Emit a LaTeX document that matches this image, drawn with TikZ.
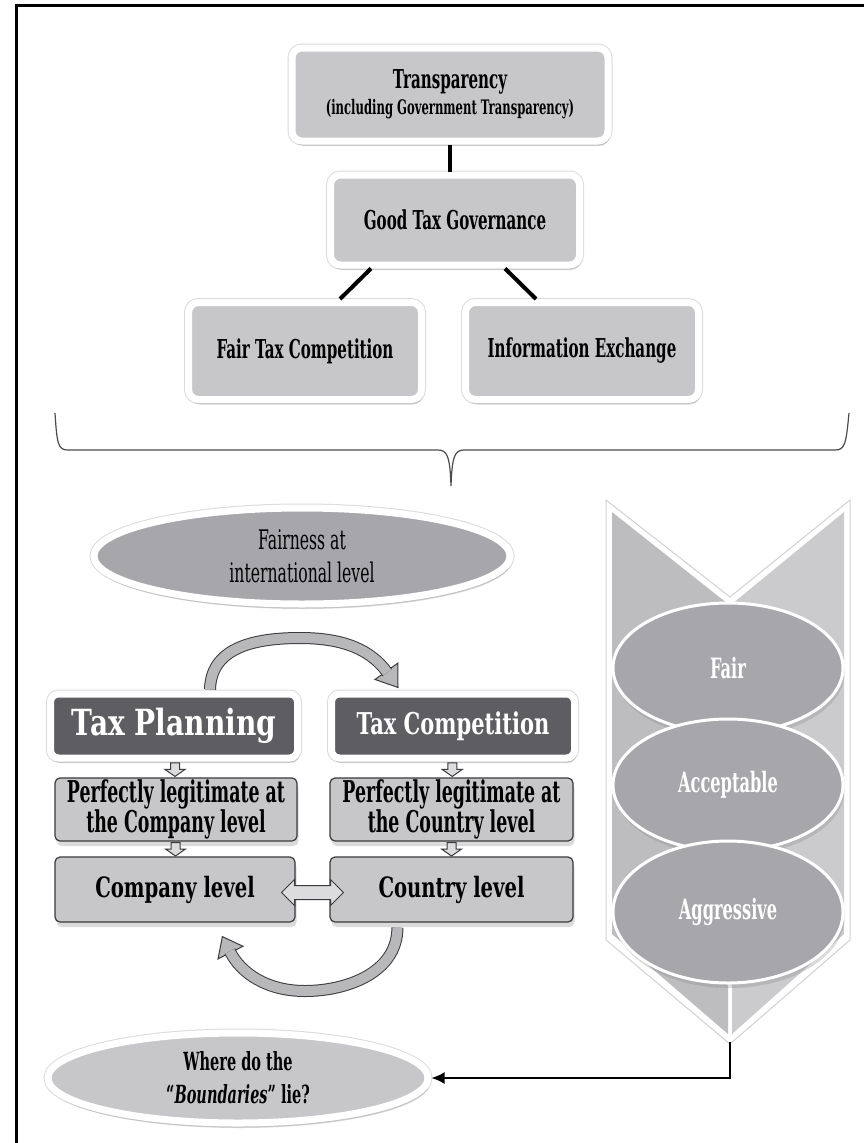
\documentclass[tikz,border=0pt]{standalone}
\usepackage{fontspec}
\setmainfont{DejaVu Serif}[FakeStretch=0.58]
\newfontfamily\widefont{DejaVu Serif}[FakeStretch=0.78]
\newfontfamily\semifont{DejaVu Serif}[FakeStretch=0.7]
\usetikzlibrary{shapes.geometric,shadows,calc,arrows.meta}

\definecolor{boxgray}{HTML}{C7C7CA}
\definecolor{ellgray}{HTML}{A6A6AB}
\definecolor{darkbox}{HTML}{5E5E62}
\definecolor{chevleft}{HTML}{BDBDC0}
\definecolor{chevright}{HTML}{CBCBCE}
\definecolor{arrowgray}{HTML}{B8B8BB}
\definecolor{arrowdark}{HTML}{3A3A3C}
\definecolor{hollowgray}{HTML}{DCDCDE}

\tikzset{
  softshadow/.style={drop shadow={shadow xshift=1.5pt,shadow yshift=-5pt,opacity=.28}},
  softbox/.style={rectangle, rounded corners=10pt, draw=white, line width=7pt,
    fill=boxgray, preaction={draw=black!14, line width=9pt}, softshadow,
    align=center, inner sep=0pt, font=\bfseries\fontsize{26}{29}\selectfont},
  darkhead/.style={softbox, rounded corners=8pt, fill=darkbox, text=white},
  flatbox/.style={rectangle, rounded corners=5pt, draw=arrowdark, line width=1.2pt,
    fill=boxgray, softshadow, align=center, inner sep=0pt,
    font=\bfseries\fontsize{30}{27}\selectfont},
  softell/.style={ellipse, draw=white, line width=7pt, fill=ellgray,
    preaction={draw=black!14, line width=9pt}, softshadow, align=center, inner sep=0pt},
  scaleell/.style={ellipse, draw=white, line width=3pt, fill=ellgray, softshadow,
    minimum width=230pt, inner sep=0pt, text=white,
    font=\bfseries\fontsize{28}{30}\selectfont},
  link/.style={line width=4pt, black},
  hollow/.style={draw=arrowdark, line width=1pt, fill=hollowgray, line join=miter},
  blockshaft/.style={draw=arrowdark, double=arrowgray, double distance=10pt, line width=1pt},
  blockhead/.style={draw=arrowdark, fill=arrowgray, line width=1pt, line join=miter},
}

\begin{document}
\begin{tikzpicture}[x=1pt,y=-1pt]
\useasboundingbox (0,0) rectangle (864,1143);
\fill[white] (0,0) rectangle (864,1143);

% outer frame
\draw[line width=3pt, line join=miter] (16,1143) -- (16,5) -- (864,5);

% ---------- upper hierarchy ----------
\node[softbox, minimum width=316pt, minimum height=93pt] (trans) at (450,94.5)
  {Transparency\\[-3pt]{\fontsize{20}{22}\selectfont(including Government Transparency)}};
\node[softbox, minimum width=249pt, minimum height=90pt] (good) at (455,220)
  {Good Tax Governance};
\node[softbox, minimum width=233pt, minimum height=97pt] (fair) at (305,351)
  {Fair Tax Competition};
\node[softbox, minimum width=233pt, minimum height=97pt] (info) at (582,351)
  {Information Exchange};

\draw[link] (trans.south) -- (trans.south |- good.north);
\draw[link] ($(good.south)+(-84,0)$) -- ($(fair.north)+(35,0)$);
\draw[link] ($(good.south)+(50,0)$) -- ($(info.north)+(-46,0)$);

% grouping brace
\draw[line width=1.2pt, draw=black!70]
  (55,413) .. controls (57,444) and (58,450) .. (68,450) -- (438,450)
  .. controls (447,450) and (450,456) .. (451,486)
  .. controls (452,456) and (455,450) .. (464,450) -- (835,450)
  .. controls (845,450) and (846,444) .. (849,413);

% ---------- right scale ----------
\fill[white] (606,500) -- (730,597) -- (850,500) -- (850,940) -- (730,1044) -- (606,940) -- cycle;
\fill[chevleft] (612,512) -- (728,604) -- (728,1034) -- (612,934) -- cycle;
\fill[chevright] (844,512) -- (732,604) -- (732,1034) -- (844,934) -- cycle;
\draw[black!18, line width=1pt, line join=miter]
  (606,500) -- (730,597) -- (850,500) -- (850,940) -- (730,1044) -- (606,940) -- cycle;
\coordinate (tip) at (730,1042);

\node[scaleell, minimum height=130pt] (sfair) at (728,668) {Fair};
\node[scaleell, minimum height=132pt] (sacc) at (728,785) {Acceptable};
\node[scaleell, minimum height=142pt] (saggr) at (728,912) {Aggressive};

% ---------- lower left block ----------
\node[softell, minimum width=416pt, minimum height=96pt,
  font=\fontsize{27}{33}\selectfont] (fairness) at (302,556)
  {Fairness at\\international level};

\node[darkhead, minimum width=247pt, minimum height=64pt,
  font=\widefont\bfseries\fontsize{36}{40}\selectfont] (tp) at (174,726) {Tax Planning};
\node[darkhead, minimum width=243pt, minimum height=64pt,
  font=\semifont\bfseries\fontsize{30}{32}\selectfont] (tc) at (453,726) {Tax Competition};

\node[flatbox, minimum width=242pt, minimum height=63pt] (pl) at (176,809.5)
  {Perfectly legitimate at\\the Company level};
\node[flatbox, minimum width=243pt, minimum height=63pt] (pc) at (451.5,809.5)
  {Perfectly legitimate at\\the Country level};

\node[flatbox, minimum width=240pt, minimum height=65pt,
  font=\semifont\bfseries\fontsize{28}{30}\selectfont] (cl) at (175,889.5) {Company level};
\node[flatbox, minimum width=243pt, minimum height=65pt,
  font=\semifont\bfseries\fontsize{28}{30}\selectfont] (ctl) at (451.5,889.5) {Country level};

% small hollow arrows between the stacked boxes
\foreach \a/\b in {tp/pl, tc/pc, pl/cl, pc/ctl}{
  \coordinate (m) at ($(\a.south)!0.5!(\b.north)$);
  \draw[hollow, shift={(m)}] (-4.5,-6.5) -- (4.5,-6.5) -- (4.5,0) -- (10,0) -- (0,7)
    -- (-10,0) -- (-4.5,0) -- cycle;
}

% two-way arrow between the level boxes
\coordinate (dm) at ($(cl.east)!0.5!(ctl.west)+(0,3)$);
\draw[hollow, shift={(dm)}] (-31,0) -- (-18,-13) -- (-18,-7) -- (18,-7) -- (18,-13)
  -- (31,0) -- (18,13) -- (18,7) -- (-18,7) -- (-18,13) -- cycle;

% curved arrow: planning -> competition
\coordinate (a1s) at ($(tp.north)+(36,-1)$);
\coordinate (a1t) at ($(tc.north west)+(70,-3)$);
\coordinate (a1b) at ($(a1t)+(-11.6,-16.2)$);
\coordinate (a1p) at (300,638);
\draw[blockhead] ($(a1b)!14pt!90:(a1t)$) -- (a1t) -- ($(a1b)!14pt!-90:(a1t)$) -- cycle;
\draw[blockshaft] (a1s) .. controls +(1,-40) and +(-50,0) .. (a1p)
  .. controls +(45,0) and +(-16,-22) .. ($(a1b)!1.5pt!(a1t)$);

% curved arrow: country level -> company level
\coordinate (a2s) at ($(ctl.south west)+(68,5)$);
\coordinate (a2t) at ($(cl.south west)+(168,14)$);
\coordinate (a2b) at ($(a2t)+(8.1,16)$);
\coordinate (a2p) at (305,991);
\draw[blockhead] ($(a2b)!14pt!90:(a2t)$) -- (a2t) -- ($(a2b)!14pt!-90:(a2t)$) -- cycle;
\draw[blockshaft] (a2s) .. controls +(0,46) and +(40,0) .. (a2p)
  .. controls +(-38,0) and +(11,22) .. ($(a2b)!1.5pt!(a2t)$);

% question ellipse
\node[softell, fill=boxgray, minimum width=380pt, minimum height=90pt,
  font=\bfseries\fontsize{25}{33}\selectfont] (where) at (238,1078)
  {Where do the\\``\textit{Boundaries}'' lie?};

\draw[line width=2pt, -{Latex[length=13pt,width=12pt]}] (tip) |- (where.east);
\end{tikzpicture}
\end{document}
